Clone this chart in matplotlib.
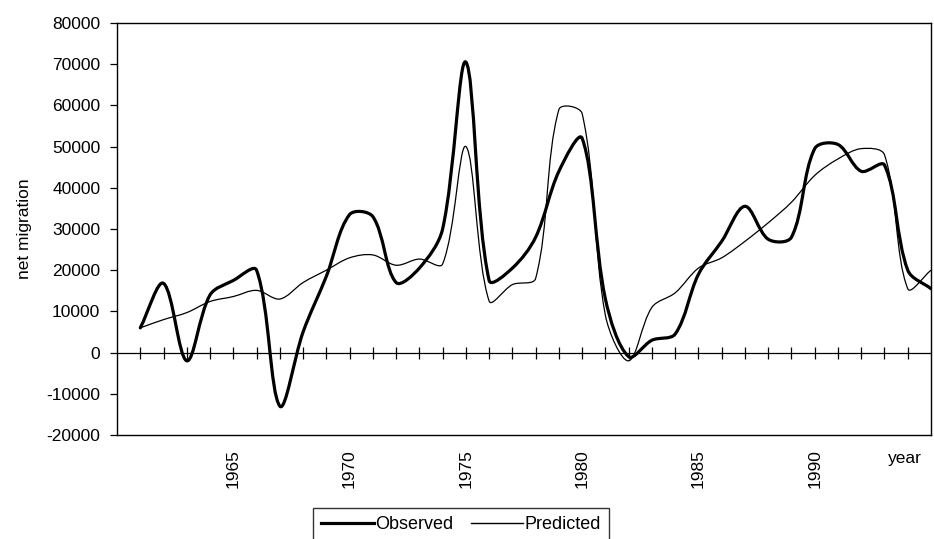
#!/usr/bin/env python3
"""Net migration per year: observed series against model prediction."""

import matplotlib
matplotlib.use("Agg")
import matplotlib.pyplot as plt
from matplotlib.path import Path
from matplotlib.patches import PathPatch
from matplotlib.lines import Line2D
import numpy as np

plt.rcParams["font.family"] = ["Liberation Sans", "DejaVu Sans"]

# yearly values
years = list(range(1961, 1996))
observed = [
    6000, 16800, -2000, 14000, 17500, 20000, -13000, 5000, 18500, 33500,
    33000, 17000, 20500, 30000, 70500, 17500, 20500, 28000, 44000, 52000,
    13000, -1000, 3000, 4500, 19000, 27000, 35500, 27500, 28000, 49500,
    50500, 44000, 45500, 20000, 15500,
]
predicted = [
    6000, 8000, 9700, 12400, 13600, 15100, 13000, 17000, 20000, 23000,
    23700, 21200, 22700, 21500, 50000, 12500, 16500, 18000, 59000, 58000,
    9000, -2000, 11000, 14500, 20500, 23000, 27000, 31500, 36500, 43000,
    47000, 49500, 48000, 15500, 20000,
]
year_labels = [1965, 1970, 1975, 1980, 1985, 1990]
y_ticks = list(range(-20000, 80001, 10000))


def smooth_path(ax, xs, ys):
    """Smoothed Bezier path through every point.

    Tangents follow the neighbouring points and are scaled by the
    on-screen segment lengths, so flat stretches next to steep ones
    do not overshoot.
    """
    pts = ax.transData.transform(np.column_stack([xs, ys]).astype(float))
    n = len(pts)
    seg = np.hypot(*np.diff(pts, axis=0).T)
    verts = [pts[0]]
    codes = [Path.MOVETO]
    for i in range(n - 1):
        p1, p2 = pts[i], pts[i + 1]
        d12 = seg[i]
        if i > 0:
            d01 = seg[i - 1]
            c1 = p1 + (p2 - pts[i - 1]) * d12 / (d01 + d12) / 3.0
        else:
            c1 = p1 + (p2 - p1) / 3.0
        if i + 2 < n:
            d23 = seg[i + 1]
            c2 = p2 - (pts[i + 2] - p1) * d12 / (d12 + d23) / 3.0
        else:
            c2 = p2 - (p2 - p1) / 3.0
        verts += [c1, c2, p2]
        codes += [Path.CURVE4] * 3
    verts = ax.transData.inverted().transform(np.array(verts))
    return Path(verts, codes)


fig = plt.figure(figsize=(9.34, 5.39), dpi=100)
fig.patch.set_facecolor("white")
ax = fig.add_axes([0.1253, 0.193, 0.8715, 0.7644])
ax.set_xlim(1960, 1995)
ax.set_ylim(-20000, 80000)

ax.add_patch(PathPatch(smooth_path(ax, years, predicted), fill=False,
                       edgecolor="black", linewidth=0.9, zorder=3))
ax.add_patch(PathPatch(smooth_path(ax, years, observed), fill=False,
                       edgecolor="black", linewidth=2.3, zorder=4,
                       capstyle="round", joinstyle="round"))

# category axis crossing at zero, with a tick at every year
ax.axhline(0, color="black", linewidth=0.9, zorder=2)
ax.plot(years[:-1], [0] * (len(years) - 1), linestyle="none", marker="|",
        markersize=8.5, markeredgewidth=0.9, color="black", zorder=2)

ax.set_yticks(y_ticks)
ax.set_yticklabels([str(v) for v in y_ticks])
ax.tick_params(axis="y", direction="out", length=5, width=0.9, pad=7,
               labelsize=12.5)

ax.set_xticks(year_labels)
ax.set_xticklabels([str(y) for y in year_labels], rotation=90)
ax.tick_params(axis="x", length=0, pad=10, labelsize=12.5)

for spine in ax.spines.values():
    spine.set_color("black")
    spine.set_linewidth(1.0)

ax.set_ylabel("net migration", fontsize=12.5, labelpad=10)
ax.text(0.989, -0.04, "year", transform=ax.transAxes, ha="right",
        va="top", fontsize=12.5)

handles = [
    Line2D([], [], color="black", linewidth=2.3),
    Line2D([], [], color="black", linewidth=1.0),
]
leg = fig.legend(handles, ["Observed", "Predicted"], ncol=2,
                 loc="upper center", bbox_to_anchor=(0.4936, 0.0575),
                 borderaxespad=0, frameon=True, fancybox=False,
                 fontsize=13, handlelength=2.9, handletextpad=0.05,
                 columnspacing=1.0, borderpad=0.45)
leg.get_frame().set_edgecolor("black")
leg.get_frame().set_linewidth(1.0)

fig.savefig("out.png", dpi=100, facecolor="white")
plt.close(fig)
